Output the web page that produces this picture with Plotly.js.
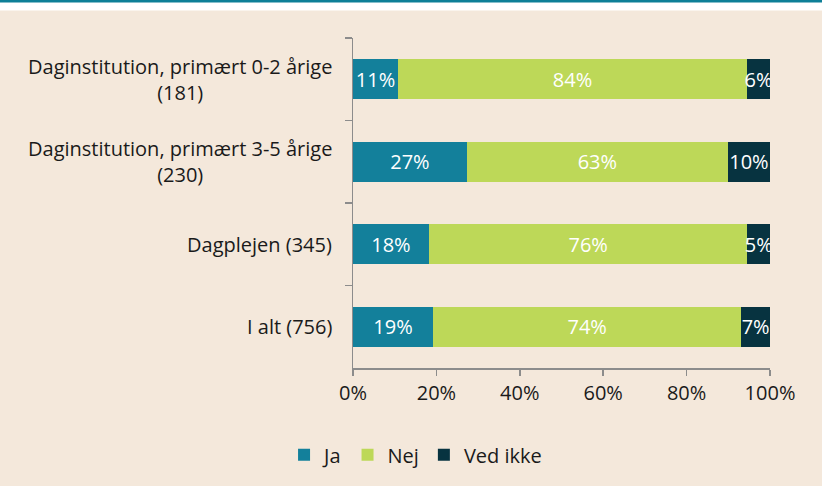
<!DOCTYPE html>
<html>
<head>
<meta charset="utf-8">
<script src="https://cdn.plot.ly/plotly-3.0.1.min.js"></script>
<style>
html,body{margin:0;padding:0;background:#ffffff;}
#chart{width:822px;height:486px;}
</style>
</head>
<body>
<div id="chart"></div>
<script>
const categories = [
  "Daginstitution, primært 0-2 årige<br>(181)",
  "Daginstitution, primært 3-5 årige<br>(230)",
  "Dagplejen (345)",
  "I alt (756)"
];
const seriesNames = ["Ja", "Nej", "Ved ikke"];
const ja = [10.8, 27.3, 18.2, 19.2];
const nej = [83.7, 62.6, 76.4, 73.9];
const vedIkke = [5.5, 10.1, 5.4, 6.9];
const xTicks = [0, 20, 40, 60, 80, 100];
const xTickLabels = ["0%", "20%", "40%", "60%", "80%", "100%"];

const colors = ["#13809b", "#bdd858", "#073340"];
const FONT = "Open Sans, Noto Sans, sans-serif";
const FS = 20;

const seriesVals = [ja, nej, vedIkke];
const traces = seriesVals.map((vals, i) => ({
  type: "bar",
  orientation: "h",
  name: seriesNames[i],
  y: categories,
  x: vals,
  width: 0.49,
  marker: {color: colors[i], line: {width: 0}},
  texttemplate: "%{x:.0f}%",
  textposition: "inside",
  insidetextanchor: "middle",
  textangle: 0,
  constraintext: "none",
  textfont: {family: FONT, size: FS, color: "#ffffff"},
  hoverinfo: "skip"
}));

const annotations = categories.map(c => ({
  xref: "paper", yref: "y",
  x: 0, y: c,
  xshift: -19,
  xanchor: "right", yanchor: "middle",
  align: "center",
  text: c,
  showarrow: false,
  font: {family: FONT, size: FS, color: "#1a1a1a"}
}));

const layout = {
  width: 822, height: 486,
  margin: {l: 353, r: 52, t: 38, b: 113, pad: 0},
  paper_bgcolor: "#f4e8db",
  plot_bgcolor: "#f4e8db",
  barmode: "stack",
  font: {family: FONT, size: FS, color: "#1a1a1a"},
  showlegend: true,
  legend: {
    orientation: "h",
    x: 0.15, xanchor: "center",
    y: -0.263, yanchor: "middle",
    font: {family: FONT, size: FS, color: "#1a1a1a"},
    bgcolor: "rgba(0,0,0,0)",
    itemwidth: 30,
    traceorder: "normal"
  },
  uniformtext: {minsize: FS, mode: "show"},
  xaxis: {
    range: [0, 100],
    tickvals: xTicks,
    ticktext: xTickLabels,
    showgrid: false,
    zeroline: false,
    showline: true,
    linecolor: "#8c8c8c",
    linewidth: 1.5,
    ticks: "outside",
    ticklen: 6,
    tickwidth: 1.5,
    tickcolor: "#8c8c8c",
    tickfont: {family: FONT, size: FS, color: "#1a1a1a"},
    fixedrange: true
  },
  yaxis: {
    type: "category",
    categoryorder: "array",
    categoryarray: categories,
    autorange: "reversed",
    showticklabels: false,
    showgrid: false,
    zeroline: false,
    showline: true,
    linecolor: "#8c8c8c",
    linewidth: 1.5,
    ticks: "outside",
    tickson: "boundaries",
    ticklen: 7,
    tickwidth: 1.5,
    tickcolor: "#8c8c8c",
    fixedrange: true
  },
  annotations: annotations,
  shapes: [
    {type: "rect", xref: "paper", yref: "paper", x0: -0.9, x1: 1.2, y0: 1.0836, y1: 1.2,
     fillcolor: "#ffffff", line: {width: 0}, layer: "below"},
    {type: "rect", xref: "paper", yref: "paper", x0: -0.9, x1: 1.2, y0: 1.1075, y1: 1.2,
     fillcolor: "#0e7f97", line: {width: 0}, layer: "below"}
  ]
};

Plotly.newPlot("chart", traces, layout, {displayModeBar: false, staticPlot: true});
</script>
</body>
</html>
